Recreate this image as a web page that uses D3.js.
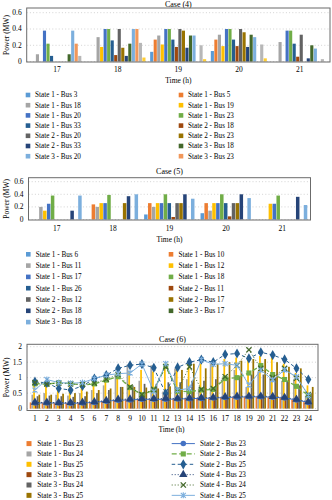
<!DOCTYPE html>
<html><head><meta charset="utf-8">
<script src="https://cdn.jsdelivr.net/npm/d3@7/dist/d3.min.js"></script>
<style>
body{margin:0;background:#fff;}
svg{display:block;font-family:"Liberation Serif","Times New Roman",serif;}
</style></head><body>
<svg id="c" width="332" height="500"></svg>
<script>
// ---------- DATA ----------
const hours45 = ["17","18","19","20","21"];
const yTicks45 = [0, 0.2, 0.4, 0.6];

const case4Names = ["State 1 - Bus 3","State 1 - Bus 5","State 1 - Bus 18","State 1 - Bus 19","State 1 - Bus 20","State 1 - Bus 23","State 1 - Bus 33","State 2 - Bus 18","State 2 - Bus 20","State 2 - Bus 23","State 2 - Bus 33","State 3 - Bus 18","State 3 - Bus 20","State 3 - Bus 23","",""];
const case4Values = [
  [0, 0, 0.12, 0.13, 0],
  [0, 0, 0.27, 0.27, 0],
  [0.09, 0.30, 0.32, 0.33, 0.24],
  [0, 0.18, 0.21, 0.19, 0],
  [0.38, 0.40, 0.40, 0.40, 0.38],
  [0.22, 0.40, 0.40, 0.40, 0.38],
  [0.07, 0.26, 0.27, 0.27, 0.22],
  [0, 0.08, 0.18, 0.19, 0.06],
  [0, 0.40, 0.40, 0.40, 0.33],
  [0, 0.17, 0.38, 0.36, 0],
  [0, 0.07, 0.17, 0.18, 0.04],
  [0.09, 0.22, 0.32, 0.33, 0.20],
  [0.38, 0.40, 0.32, 0.30, 0.16],
  [0.22, 0.40, 0, 0, 0],
  [0.07, 0.23, 0.20, 0.21, 0.03],
  [0, 0.05, 0.03, 0.04, 0]
];

const case5Names = ["State 1 - Bus 6","State 1 - Bus 10","State 1 - Bus 11","State 1 - Bus 12","State 1 - Bus 17","State 1 - Bus 18","State 1 - Bus 26","State 2 - Bus 11","State 2 - Bus 12","State 2 - Bus 17","State 2 - Bus 18","State 3 - Bus 17","State 3 - Bus 18"];
const case5Values = [
  [0, 0, 0.08, 0.10, 0],
  [0, 0.24, 0.26, 0.26, 0],
  [0.20, 0.20, 0.20, 0.14, 0],
  [0.14, 0.26, 0.26, 0.26, 0.25],
  [0.25, 0.26, 0.26, 0.26, 0.25],
  [0.38, 0.39, 0.40, 0.40, 0.38],
  [0, 0, 0.26, 0.26, 0],
  [0, 0, 0.04, 0.05, 0],
  [0, 0, 0.26, 0.26, 0],
  [0, 0.26, 0.26, 0.26, 0],
  [0.14, 0.37, 0.40, 0.40, 0.36],
  [0, 0, 0, 0, 0],
  [0.38, 0.40, 0.33, 0.34, 0.23]
];

const hours6 = d3.range(1, 25).map(String);
const yTicks6 = [0, 0.5, 1, 1.5, 2];
const case6BarNames = ["State 1 - Bus 23","State 1 - Bus 24","State 1 - Bus 25","State 3 - Bus 23","State 3 - Bus 24","State 3 - Bus 25"];
const case6BarValues = [
  [0.2,0.2,0.19,0.19,0.2,0.22,0.25,0.28,0.3,0.31,0.31,0.31,0.32,0.33,0.34,0.35,0.37,0.38,0.38,0.38,0.37,0.35,0.29,0.21],
  [0.45,0.5,0.45,0.42,0.5,0.6,0.75,1.1,1.42,0.9,1.4,0.55,1.3,0.95,0.65,1.45,1.0,1.25,0.7,1.2,1.0,0.9,0.95,0.42],
  [0.8,0.75,0.75,0.72,0.72,0.85,1.0,1.15,1.2,1.25,1.2,1.3,1.3,1.35,1.45,1.45,1.6,1.65,1.7,1.7,1.65,1.45,1.15,0.75],
  [0.15,0.15,0.15,0.14,0.15,0.17,0.2,0.22,0.24,0.25,0.25,0.25,0.26,0.27,0.28,0.29,0.3,0.31,0.31,0.31,0.3,0.28,0.23,0.17],
  [0.4,0.42,0.4,0.38,0.4,0.5,0.6,0.7,0.75,0.8,0.8,0.85,0.85,0.9,0.9,0.95,1.0,1.05,1.1,1.1,1.0,0.9,0.75,0.5],
  [0.45,0.45,0.48,0.5,0.55,0.6,0.65,0.7,0.7,0.68,0.65,0.72,1.25,1.45,1.3,1.45,1.5,1.55,1.6,1.6,1.5,1.35,1.3,0.7]
];
const case6LineNames = ["State 2 - Bus 23","State 2 - Bus 24","State 2 - Bus 25","State 4 - Bus 23","State 4 - Bus 24","State 4 - Bus 25"];
const case6LineValues = [
  [0.18,0.18,0.18,0.17,0.18,0.2,0.24,0.27,0.28,0.3,0.3,0.3,0.31,0.32,0.33,0.34,0.36,0.37,0.38,0.38,0.37,0.34,0.28,0.2],
  [0.8,0.79,0.84,0.81,0.76,0.8,0.92,1.03,0.68,0.45,0.6,1.37,0.56,0.55,0.6,0.62,0.97,1.0,1.15,1.39,1.1,0.94,0.72,0.42],
  [0.87,0.83,0.65,0.6,0.73,0.97,1.08,1.3,1.4,1.44,1.32,0.49,1.33,1.5,1.58,1.5,1.75,1.78,1.62,1.82,1.73,1.59,1.3,0.94],
  [0.2,0.2,0.19,0.19,0.2,0.22,0.26,0.3,0.31,0.32,0.32,0.33,0.33,0.34,0.35,0.36,0.38,0.4,0.4,0.4,0.39,0.36,0.3,0.22],
  [0.84,0.8,0.82,0.8,0.78,0.82,0.95,1.1,0.7,0.45,0.62,1.35,0.6,1.35,0.62,0.65,1.03,1.4,1.9,1.3,1.0,1.3,0.98,0.45],
  [0.6,0.94,0.84,0.82,0.84,0.97,1.08,1.13,1.15,1.44,0.55,1.45,0.6,0.65,1.58,1.43,1.45,1.4,0.76,1.24,0.93,1.25,1.03,0.43]
];

// ---------- STYLE ----------
const palette = ["#5B9BD5","#ED7D31","#A5A5A5","#FFC000","#4472C4","#70AD47","#255E91","#9E480E","#636363","#997300","#264478","#43682B","#7CAFDD","#F1975A","#B7B7B7","#FFCD33"];
const case6BarColors = ["#ED7D31","#A5A5A5","#FFC000","#9E480E","#636363","#997300"];
const case6LineColors = ["#4472C4","#70AD47","#255E91","#264478","#43682B","#7CAFDD"];
const case6Dash = [null,"5,2.5","3.5,2.5","1,2","1,2",null];
const case6Marker = ["circle","square","diamond","triangle","x","star"];

const svg = d3.select("#c");
const FS_T = 8, FS_K = 7.5, FS_L = 7.2;

function frame(g, o, y, ticks, fmt){
  g.append("g").selectAll("line").data(ticks).join("line")
    .attr("x1", o.bx0).attr("x2", o.bx1)
    .attr("y1", d=>y(d)).attr("y2", d=>y(d))
    .attr("stroke","#c8c8c8").attr("stroke-width",0.8).attr("stroke-dasharray","1,2.2");
  g.append("g").selectAll("text").data(ticks).join("text")
    .attr("x", o.bx0 - 5).attr("y", d=>y(d)).attr("dy","0.33em")
    .attr("text-anchor","end").attr("font-size",FS_K).text(fmt);
  g.append("text").attr("transform",`translate(${o.ylx},${(o.top+o.bottom)/2}) rotate(-90)`)
    .attr("text-anchor","middle").attr("dy","0.33em").attr("font-size",FS_K).text("Power (MW)");
  g.append("text").attr("x",(o.bx0+o.bx1)/2).attr("y",o.titleY).attr("dy","0.33em")
    .attr("text-anchor","middle").attr("font-size",FS_T).text(o.title);
  g.append("text").attr("x",(o.bx0+o.bx1)/2 + (o.xlOff||0)).attr("y",o.xlabY).attr("dy","0.33em")
    .attr("text-anchor","middle").attr("font-size",FS_K).text("Time (h)");
}
function box(g,o){
  g.append("rect").attr("x",o.bx0).attr("y",o.top).attr("width",o.bx1-o.bx0).attr("height",o.bottom-o.top)
    .attr("fill","none").attr("stroke","#6b6b6b").attr("stroke-width",1);
}

function barPanel(o, cats, names, values, colors, ticks){
  const g = svg.append("g");
  const x = d3.scaleBand().domain(cats).range([o.bx0, o.bx1]).paddingInner(o.pi).paddingOuter(o.pi/2);
  const xi = d3.scaleBand().domain(d3.range(names.length)).range([0, x.bandwidth()]);
  const y = d3.scaleLinear().domain([0,0.6]).range([o.y0, o.y06]);
  frame(g,o,y,ticks,d=>d===0?"0":d3.format(".1f")(d));
  const sg = g.append("g").selectAll("g").data(values).join("g").attr("fill",(d,i)=>colors[i]);
  sg.each(function(vals,si){
    d3.select(this).selectAll("rect").data(vals).join("rect")
      .attr("x",(v,ci)=>x(cats[ci])+xi(si)).attr("width",xi.bandwidth()-0.4)
      .attr("y",v=>y(v)).attr("height",v=>y(0)-y(v));
  });
  g.append("g").selectAll("text").data(cats).join("text")
    .attr("x",d=>x(d)+x.bandwidth()/2).attr("y",o.tickY).attr("dy","0.33em")
    .attr("text-anchor","middle").attr("font-size",FS_K).text(d=>d);
  box(g,o);
  const items = names.map((n,i)=>({n,c:colors[i]})).filter(d=>d.n);
  const lg = g.append("g").selectAll("g").data(items).join("g")
    .attr("transform",(d,i)=>`translate(${i%2===0?o.lgX0:o.lgX1},${o.lgY+Math.floor(i/2)*o.lgStep})`);
  lg.append("rect").attr("x",-2.3).attr("y",-2.3).attr("width",4.6).attr("height",4.6).attr("fill",d=>d.c);
  lg.append("text").attr("x",o.lgT).attr("dy","0.33em").attr("font-size",FS_L).text(d=>d.n);
}

barPanel({bx0:26.7,bx1:330,top:8,bottom:62,y0:61.6,y06:12.7,pi:0.07,titleY:4,tickY:69.5,xlabY:81,ylx:7,
  title:"Case (4)",lgX0:28,lgX1:181,lgT:7,lgY:95,lgStep:10.2}, hours45, case4Names, case4Values, palette, yTicks45);

barPanel({bx0:28.5,bx1:310.5,top:177.7,bottom:220,y0:219.5,y06:181.7,pi:0.1,titleY:171,tickY:228.5,xlabY:240,ylx:7,
  title:"Case (5)",lgX0:28.3,lgX1:171,lgT:7.4,lgY:254.3,lgStep:11.3}, hours45, case5Names, case5Values, palette, yTicks45);

// ---------- Case 6 ----------
(function(){
  const o = {bx0:27,bx1:318,top:344.3,bottom:410.5,titleY:339.3,xlabY:429.3,ylx:7,title:"Case (6)",xlOff:-1};
  const g = svg.append("g");
  const x = d3.scaleBand().domain(hours6).range([29,314.3]).paddingInner(0.12).paddingOuter(0.06);
  const xi = d3.scaleBand().domain(d3.range(6)).range([0,x.bandwidth()]);
  const y = d3.scaleLinear().domain([0,2]).range([408.6,346.7]);
  frame(g,o,y,yTicks6,d=>String(d));
  case6BarValues.forEach((vals,si)=>{
    g.append("g").attr("fill",case6BarColors[si]).selectAll("rect").data(vals).join("rect")
      .attr("x",(v,ci)=>x(hours6[ci])+xi(si)).attr("width",xi.bandwidth())
      .attr("y",v=>y(v)).attr("height",v=>y(0)-y(v));
  });
  const cx = ci => x(hours6[ci]) + x.bandwidth()/2;
  const line = d3.line().x((v,i)=>cx(i)).y(v=>y(v));
  function marker(sel, type, color){
    if(type==="x"){
      sel.append("path").attr("d","M-2.6,-2.6L2.6,2.6M-2.6,2.6L2.6,-2.6").attr("stroke",color).attr("stroke-width",1.3).attr("fill","none");
    } else if(type==="star"){
      sel.append("path").attr("d","M-2.5,-2.5L2.5,2.5M-2.5,2.5L2.5,-2.5M0,-3L0,3").attr("stroke",color).attr("stroke-width",1.1).attr("fill","none");
    } else {
      const sym = {circle:d3.symbolCircle,square:d3.symbolSquare,diamond:d3.symbolDiamond,triangle:d3.symbolTriangle}[type];
      const size = {circle:24,square:26,diamond:30,triangle:30}[type];
      sel.append("path").attr("d",d3.symbol().type(sym).size(size)()).attr("fill",color);
    }
  }
  case6LineValues.forEach((vals,si)=>{
    const c = case6LineColors[si];
    g.append("path").datum(vals).attr("d",line).attr("fill","none").attr("stroke",c)
      .attr("stroke-width",si===1?1.3:1).attr("stroke-dasharray",case6Dash[si]);
  });
  case6LineValues.forEach((vals,si)=>{
    const c = case6LineColors[si];
    g.append("g").selectAll("g").data(vals).join("g")
      .attr("transform",(v,i)=>`translate(${cx(i)},${y(v)})`)
      .each(function(){ marker(d3.select(this), case6Marker[si], c); });
  });
  g.append("g").selectAll("text").data(hours6).join("text")
    .attr("x",d=>x(d)+x.bandwidth()/2).attr("y",418.3).attr("dy","0.33em")
    .attr("text-anchor","middle").attr("font-size",FS_K).text(d=>d);
  box(g,o);
  const lgY = 443.6, step = 10.35;
  const lb = g.append("g").selectAll("g").data(case6BarNames).join("g")
    .attr("transform",(d,i)=>`translate(29,${lgY+i*step})`);
  lb.append("rect").attr("x",-2.5).attr("y",-2.5).attr("width",5).attr("height",5).attr("fill",(d,i)=>case6BarColors[i]);
  lb.append("text").attr("x",8.3).attr("dy","0.33em").attr("font-size",FS_L).text(d=>d);
  const ll = g.append("g").selectAll("g").data(case6LineNames).join("g")
    .attr("transform",(d,i)=>`translate(183.3,${lgY+i*step})`);
  ll.append("line").attr("x1",-11.6).attr("x2",11.6).attr("stroke",(d,i)=>case6LineColors[i])
    .attr("stroke-width",(d,i)=>i===1?1.3:1).attr("stroke-dasharray",(d,i)=>case6Dash[i]);
  ll.each(function(d,i){ marker(d3.select(this), case6Marker[i], case6LineColors[i]); });
  ll.append("text").attr("x",16.7).attr("dy","0.33em").attr("font-size",FS_L).text(d=>d);
})();
</script>
</body></html>
